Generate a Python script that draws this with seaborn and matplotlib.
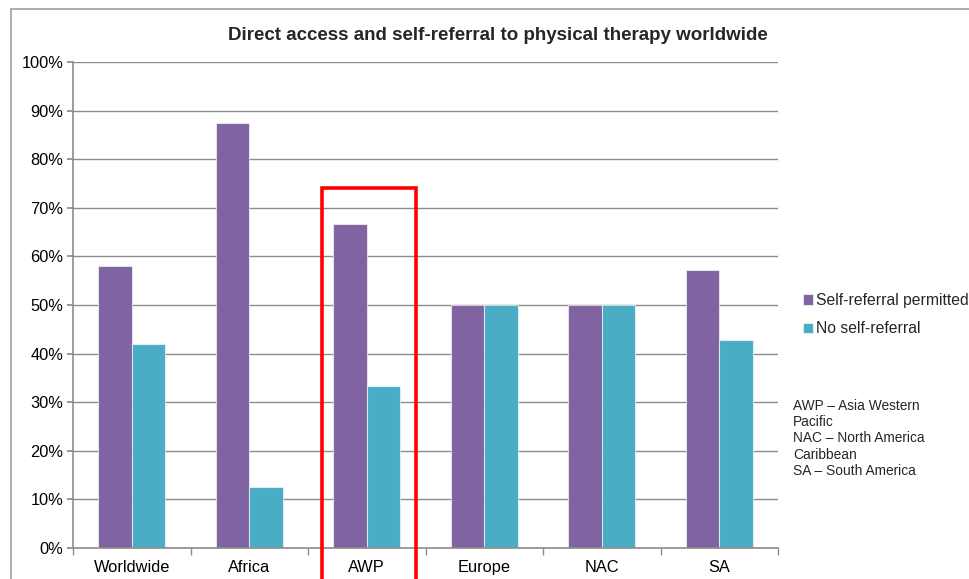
import matplotlib
matplotlib.use("Agg")
import matplotlib.pyplot as plt
import seaborn as sns
import pandas as pd
from matplotlib.patches import Rectangle
from matplotlib.lines import Line2D
from matplotlib.ticker import PercentFormatter, FixedLocator

categories = ["Worldwide", "Africa", "AWP", "Europe", "NAC", "SA"]
self_referral = [58.0, 87.5, 66.7, 50.0, 50.0, 57.1]
no_self_referral = [42.0, 12.5, 33.3, 50.0, 50.0, 42.9]
series_names = ["Self-referral permitted", "No self-referral"]
yticks = [0, 10, 20, 30, 40, 50, 60, 70, 80, 90, 100]
title = "Direct access and self-referral to physical therapy worldwide"
notes = "AWP \u2013 Asia Western\nPacific\nNAC \u2013 North America\nCaribbean\nSA \u2013 South America"

df = pd.DataFrame({
    "Region": categories * 2,
    "Series": [series_names[0]] * len(categories) + [series_names[1]] * len(categories),
    "Value": self_referral + no_self_referral,
})

sns.set_theme(style="white")
plt.rcParams["font.family"] = ["Liberation Sans", "DejaVu Sans"]

W, H = 969, 579
fig = plt.figure(figsize=(W / 100, H / 100), dpi=100)
ax = fig.add_axes([73 / W, 1 - 548 / H, (778 - 73) / W, (548 - 62) / H])

palette = ["#8064A2", "#4BACC6"]
sns.barplot(data=df, x="Region", y="Value", hue="Series", palette=palette,
            width=0.57, gap=0, ax=ax, edgecolor=(1, 1, 1, 0.6), linewidth=0.8,
            saturation=1, legend=True)

ax.set_ylim(0, 100)
ax.set_xlim(-0.5, len(categories) - 0.5)
ax.yaxis.set_major_locator(FixedLocator(yticks))
ax.yaxis.set_major_formatter(PercentFormatter(decimals=0))
ax.set_xlabel("")
ax.set_ylabel("")
ax.grid(axis="y", color="#8C8C8C", linewidth=1.0)
ax.set_axisbelow(True)
for s in ["top", "right"]:
    ax.spines[s].set_visible(False)
for s in ["left", "bottom"]:
    ax.spines[s].set_color("#8C8C8C")
    ax.spines[s].set_linewidth(1.2)

ax.tick_params(axis="y", which="major", left=True, length=4, color="#8C8C8C",
               labelsize=11.8, labelcolor="black", pad=3)
ax.tick_params(axis="x", which="major", length=0, labelsize=11.8, labelcolor="black", pad=0)
for lab in ax.get_xticklabels():
    lab.set_verticalalignment("baseline")
    lab.set_y(-24 / (548 - 62))
ax.set_xticks([i - 0.5 for i in range(len(categories) + 1)], minor=True)
ax.tick_params(axis="x", which="minor", bottom=True, length=5, color="#8C8C8C", width=1)

fig.text(498 / W, 1 - 35 / H, title, fontsize=13.5, fontweight="bold",
         ha="center", va="center")

# legend
leg = ax.get_legend()
handles = leg.legend_handles
leg.remove()
fig.legend(handles, series_names, loc="upper left",
           bbox_to_anchor=(803 / W, 1 - 293 / H), frameon=False,
           fontsize=11.3, handlelength=0.65, handleheight=0.65,
           handletextpad=0.2, labelspacing=0.85, borderaxespad=0, borderpad=0)

fig.text(793 / W, 1 - 399 / H, notes, fontsize=9.9, va="top", ha="left",
         linespacing=1.2)

# outer chart border (cropped)
tr = fig.transFigure
fig.add_artist(Line2D([11 / W, 11 / W], [0, 1 - 9 / H], transform=tr,
                      color="#A0A0A0", linewidth=1.2))
fig.add_artist(Line2D([11 / W, 1], [1 - 9 / H, 1 - 9 / H], transform=tr,
                      color="#A0A0A0", linewidth=1.2))

# red highlight box (annotation)
fig.add_artist(Rectangle((322 / W, -0.05), (416 - 322) / W, (579 - 188) / H + 0.05,
                         transform=tr, fill=False, edgecolor="#FF0000",
                         linewidth=2.6, clip_on=False))

fig.savefig("out.png", dpi=100)
